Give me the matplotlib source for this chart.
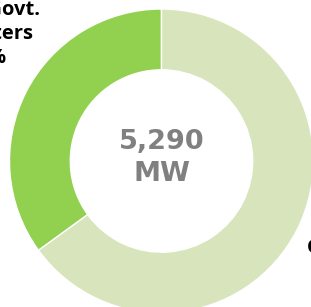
import matplotlib
matplotlib.use("Agg")
import matplotlib.pyplot as plt

# data
segments = ["Non-Govt. Promoters", "Govt. Promoters"]
shares = [35, 65]
colors = ["#92D050", "#D8E4BC"]
total_label = "5,290\nMW"

W, H = 311, 307
fig = plt.figure(figsize=(W / 100, H / 100), dpi=100)

# donut centre ~ (161.5, 161) px, outer radius ~152 px
cx, cy, r = 161.5, 161, 152
ax = fig.add_axes([(cx - r) / W, 1 - (cy + r) / H, 2 * r / W, 2 * r / H])
ax.pie(shares, colors=colors, startangle=90, counterclock=True,
       radius=1, wedgeprops=dict(width=0.4, edgecolor="white", linewidth=1))
ax.set_xlim(-1, 1)
ax.set_ylim(-1, 1)
ax.set_aspect("equal")
ax.axis("off")

ax.text(0, 0.02, total_label, ha="center", va="center", fontsize=19.5,
        fontweight="bold", color="#808080", linespacing=1.3)

# labels (mostly cropped off the picture, as in the source)
def px(x, y):
    return x / W, 1 - y / H

left_lines = ["Non-Govt.", "Promoters", "35%"]
left_ends = [(40, 15), (33, 39), (6, 63)]
for s, (x, y) in zip(left_lines, left_ends):
    fig.text(*px(x, y), s, ha="right", va="baseline", fontsize=14.5,
             fontweight="bold", color="black", family="Open Sans")

fig.text(*px(307, 253), "Govt.", ha="left", va="baseline", fontsize=14.5,
         fontweight="bold", color="black", family="Open Sans")

fig.savefig("out.png", dpi=100)
